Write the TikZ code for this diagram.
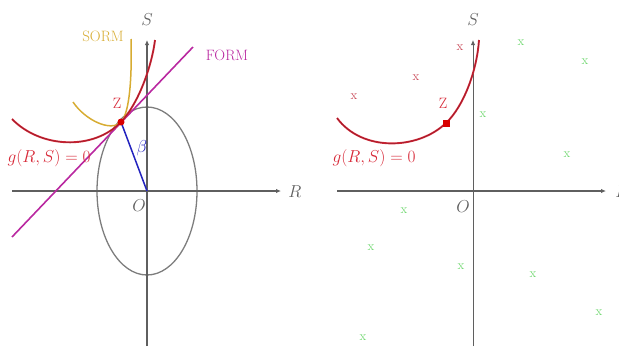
\documentclass[tikz,border=0pt]{standalone}
\usetikzlibrary{arrows.meta,calc}
\definecolor{redc}{RGB}{215,40,55}
\definecolor{redcore}{RGB}{150,30,45}
\definecolor{sormc}{RGB}{215,172,50}
\definecolor{formc}{RGB}{185,40,160}
\definecolor{betac}{RGB}{35,35,190}
\definecolor{circc}{RGB}{125,125,125}
\definecolor{axisc}{RGB}{95,95,95}
\definecolor{greenx}{RGB}{110,215,110}
\definecolor{redx}{RGB}{200,70,85}
\begin{document}
\begin{tikzpicture}[x=1pt,y=-1pt,
  axisline/.style={axisc,line width=1.8pt,-{Latex[length=5pt,width=4.5pt]}},
  vaxis/.style={axisc,line width=1.2pt,-{Latex[length=5pt,width=4.5pt]}},
  lbl/.style={inner sep=0pt,font=\fontsize{16}{19}\selectfont},
  wlbl/.style={inner sep=0pt,font=\fontsize{15}{18}\selectfont},
  gcurve/.style={redc,line width=1.9pt,postaction={draw=redcore,line width=0.6pt}},
  xmark/.style={inner sep=0pt,font=\fontsize{13}{15}\selectfont},
]
\useasboundingbox (0,0) rectangle (619,346);
% ---------- left panel ----------
\coordinate (O1) at (147,191);
\coordinate (Z1) at (121,122);
\draw[circc,line width=1.3pt] (O1) ellipse [x radius=50, y radius=84];
\draw[axisline] (12,191) -- (281,191);
\draw[vaxis] (147,346) -- (147,40);
\draw[formc,line width=1.6pt] (12,237) -- (193,47);
\draw[sormc,line width=1.5pt] (73,102) .. controls (85,120) and (111,132.5) .. (Z1)
  .. controls (130,112.5) and (132,75) .. (131,39);
\draw[gcurve] (12,119) .. controls (40,148) and (93,151) .. (Z1)
  .. controls (139,103) and (152,65) .. (155,40);
\draw[betac,line width=1.5pt] (Z1) -- (O1);
\fill[red!85!black] (Z1) circle (3.5);
\node[lbl,text=axisc] (S1) at (147,20) {$S$};
\node[lbl,text=axisc] (R1) at (295,192) {$R$};
\node[lbl,text=axisc] (O1l) at (139,206) {$O$};
\node[wlbl,text=redc] (Z1l) at (117,103) {Z};
\node[lbl,text=betac] (b1) at (142,148) {$\beta$};
\node[lbl,text=redc] (g1) at (49,158) {$g(R,S)=0$};
\node[wlbl,text=sormc] (sorm) at (103,36) {SORM};
\node[wlbl,text=formc] (form) at (227,55) {FORM};
% ---------- right panel ----------
\coordinate (O2) at (473,191);
\coordinate (Z2) at (446,123);
\draw[axisline] (337,191) -- (606,191);
\draw[axisc,line width=0.9pt,-{Latex[length=5pt,width=4.5pt]}] (473,346) -- (473,40);
\draw[gcurve] (337,118) .. controls (362,152) and (418,150) .. (Z2)
  .. controls (464,106) and (477,70) .. (479,40);
\fill[red!85!black] ($(Z2)+(-3.5,-3.5)$) rectangle ($(Z2)+(3.5,3.5)$);
\node[lbl,text=axisc] (S2) at (473,20) {$S$};
\node[lbl,text=axisc] (R2) at (622,192) {$R$};
\node[lbl,text=axisc] (O2l) at (463,207) {$O$};
\node[wlbl,text=redc] (Z2l) at (443,103) {Z};
\node[lbl,text=redc] (g2) at (374,158) {$g(R,S)=0$};
% red samples
\node[xmark,text=redx] (r1) at (460,48) {x};
\node[xmark,text=redx] (r2) at (416,78) {x};
\node[xmark,text=redx] (r3) at (354,97) {x};
% green samples
\node[xmark,text=greenx] (q1) at (521,43) {x};
\node[xmark,text=greenx] (q2) at (585,62) {x};
\node[xmark,text=greenx] (q3) at (483,115) {x};
\node[xmark,text=greenx] (q4) at (567,155) {x};
\node[xmark,text=greenx] (q5) at (404,211) {x};
\node[xmark,text=greenx] (q6) at (371,248) {x};
\node[xmark,text=greenx] (q7) at (461,267) {x};
\node[xmark,text=greenx] (q8) at (533,275) {x};
\node[xmark,text=greenx] (q9) at (599,313) {x};
\node[xmark,text=greenx] (q10) at (363,338) {x};
\end{tikzpicture}
\end{document}
